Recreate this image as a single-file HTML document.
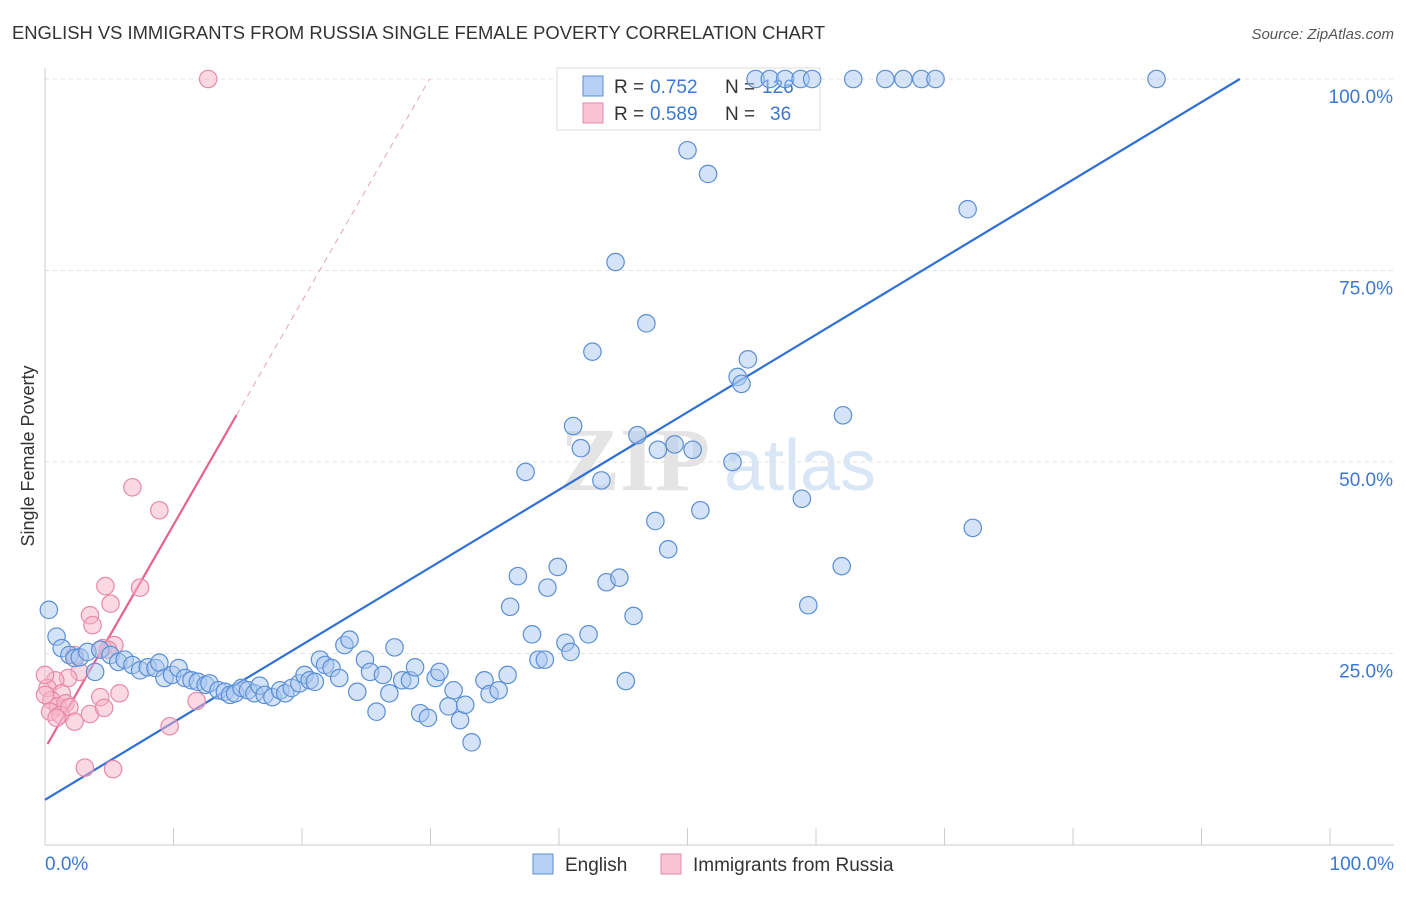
<!DOCTYPE html>
<html><head><meta charset="utf-8"><style>
body{margin:0;background:#fff;font-family:"Liberation Sans",sans-serif;}
</style></head><body>
<svg id="c" width="1406" height="892" xmlns="http://www.w3.org/2000/svg">
<text x="12" y="39" font-size="18.4" fill="#333">ENGLISH VS IMMIGRANTS FROM RUSSIA SINGLE FEMALE POVERTY CORRELATION CHART</text>
<text x="1394" y="39" font-size="15" fill="#555" text-anchor="end" font-style="italic">Source: ZipAtlas.com</text>
<text x="34" y="456" font-size="18" fill="#333" text-anchor="middle" transform="rotate(-90 34 456)">Single Female Poverty</text>
<g><text x="635" y="490" font-size="90" fill="#e4e4e4" text-anchor="middle" font-family="Liberation Serif,serif" font-weight="bold">ZIP</text><text x="800" y="490" font-size="72" fill="#d8e6f6" text-anchor="middle">atlas</text></g>
<g id="grid"></g><g id="axes"></g>
<g>
<rect x="557" y="68" width="263" height="62" fill="#fff" stroke="#ddd"/>
<rect x="583" y="76" width="20" height="20" fill="#b6d1f3" stroke="#5b8fd6"/>
<text x="614" y="93" font-size="19" fill="#333">R =</text>
<text x="650" y="93" font-size="19" fill="#3a78d4">0.752</text>
<text x="725" y="93" font-size="19" fill="#333">N =</text>
<text x="762" y="93" font-size="19" fill="#3a78d4">126</text>
<rect x="583" y="103" width="20" height="20" fill="#f8c4d4" stroke="#e88aa8"/>
<text x="614" y="120" font-size="19" fill="#333">R =</text>
<text x="650" y="120" font-size="19" fill="#3a78d4">0.589</text>
<text x="725" y="120" font-size="19" fill="#333">N =</text>
<text x="770" y="120" font-size="19" fill="#3a78d4">36</text>
</g>
<g id="lines"></g><g id="pts"></g>
<g>
<rect x="533" y="854" width="20" height="20" fill="#b6d1f3" stroke="#5b8fd6"/>
<text x="565" y="871" font-size="19" fill="#333">English</text>
<rect x="661" y="854" width="20" height="20" fill="#f8c4d4" stroke="#e88aa8"/>
<text x="693" y="871" font-size="19" fill="#333">Immigrants from Russia</text>
</g>
</svg>
<script>
const blueX=[0.3,0.9,1.3,1.9,2.3,2.7,3.3,3.9,4.3,5.1,5.7,6.2,6.8,7.4,8.0,8.6,8.9,9.3,9.9,10.4,10.9,11.4,11.9,12.5,12.8,13.5,14.0,14.4,14.8,15.3,15.8,16.3,16.7,17.1,17.7,18.3,18.7,19.2,19.8,20.2,20.6,21.0,21.4,21.8,22.3,22.9,23.3,23.7,24.3,24.9,25.3,25.8,26.3,26.8,27.2,27.8,28.4,28.8,29.2,29.8,30.4,30.7,31.4,31.8,32.3,32.7,33.2,34.2,34.6,35.3,36.0,36.2,36.8,37.4,37.9,38.4,38.9,39.1,39.9,40.5,40.9,41.1,41.7,42.3,42.6,43.3,43.7,44.4,44.7,45.2,45.8,46.1,46.8,47.5,47.7,48.5,49.0,50.0,50.4,51.0,51.6,53.5,53.9,54.2,54.7,55.3,56.4,57.6,58.8,59.7,58.9,59.4,62.1,62.0,62.9,65.4,66.8,68.2,69.3,71.8,72.2,86.5];
const blueY=[30.7,27.2,25.7,24.8,24.4,24.5,25.2,22.6,25.5,24.8,23.9,24.2,23.5,22.8,23.2,23.1,23.8,21.8,22.2,23.1,21.8,21.5,21.3,20.9,21.1,20.2,20.0,19.6,19.8,20.5,20.2,19.8,20.8,19.6,19.3,20.2,19.8,20.5,21.1,22.2,21.5,21.3,24.2,23.5,23.1,21.8,26.1,26.8,20.0,24.2,22.6,17.4,22.2,19.8,25.8,21.5,21.5,23.2,17.2,16.6,21.8,22.6,18.1,20.2,16.3,18.3,13.4,21.5,19.7,20.2,22.2,31.1,35.1,48.7,27.5,24.2,24.2,33.6,36.3,26.4,25.2,54.7,51.8,27.5,64.4,47.6,34.3,76.1,34.9,21.4,29.9,53.5,68.1,42.3,51.6,38.6,52.3,90.7,51.6,43.7,87.6,50.0,61.1,60.2,63.4,100,100,100,100,100,45.2,31.3,56.1,36.4,100,100,100,100,100,83.0,41.4,100];
const pinkX=[12.7,6.8,8.9,4.7,7.4,3.5,5.1,3.7,5.4,4.5,4.9,2.3,2.7,1.8,0.8,0.2,1.3,4.3,5.8,0.5,1.0,1.6,0.4,1.2,1.9,3.5,4.6,2.3,0.9,9.7,3.1,5.3,11.8,0,0];
const pinkY=[100,46.7,43.7,33.8,33.6,30.0,31.5,28.7,26.1,25.7,25.5,24.8,22.6,21.8,21.5,20.5,19.8,19.3,19.8,18.9,18.1,18.5,17.4,17.0,18.0,17.1,17.9,16.1,16.6,15.5,10.1,9.9,18.8,22.2,19.6];
const blueLine=[1.012,5.9], pinkLine=[2.92,12.6];
const yTicks=[25,50,75,100];
const xTickVals=[0,10,20,30,40,50,60,70,80,90,100];
const NS='http://www.w3.org/2000/svg';
const sx=v=>45+v*12.85, sy=v=>845-v*7.66;
function mk(tag,attrs,parent){const e=document.createElementNS(NS,tag);for(const k in attrs)e.setAttribute(k,attrs[k]);document.getElementById(parent).appendChild(e);return e;}
yTicks.forEach(t=>{
 const g=mk('line',{x1:45,x2:1394,y1:sy(t),y2:sy(t),stroke:'#e2e2e2','stroke-dasharray':'4,4'},'grid');
 
 
 const l=mk('text',{x:1393,y:sy(t)+24,'font-size':19,fill:'#3a78d4','text-anchor':'end'},'grid');l.textContent=t.toFixed(1)+'%';
 
 
});
const ax=mk('line',{x1:45,x2:1394,y1:845,y2:845,stroke:'#ccc'},'axes');


const ay=mk('line',{x1:45,x2:45,y1:68,y2:845,stroke:'#ccc'},'axes');


xTickVals.forEach(t=>{const k=mk('line',{x1:sx(t),x2:sx(t),y1:828,y2:845,stroke:'#ccc'},'axes');
 
 });
[['0.0%',45,'start'],['100.0%',1394,'end']].forEach(a=>{const t=mk('text',{x:a[1],y:870,'font-size':19,fill:'#3a78d4','text-anchor':a[2]},'axes');t.textContent=a[0];
 
 });
function pt(xs,ys,fill,stroke,name){xs.forEach((x,i)=>{const c=mk('circle',{cx:sx(x),cy:sy(ys[i]),r:8.7,fill:fill,'fill-opacity':0.5,stroke:stroke,'stroke-width':1.2},'pts');
 
 });}
pt(pinkX,pinkY,'#f6b3c8','#e88aa8','russia-point');
pt(blueX,blueY,'#a9c8f0','#5b8fd6','english-point');
const bx2=(100-blueLine[1])/blueLine[0];
const bl=mk('line',{x1:sx(0),y1:sy(blueLine[1]),x2:sx(bx2),y2:sy(100),stroke:'#2f6fd6','stroke-width':2.2},'lines');


const px2=(100-pinkLine[1])/pinkLine[0];
const pl=mk('line',{x1:sx(0.2),y1:sy(pinkLine[1]+0.2*pinkLine[0]),x2:sx(14.9),y2:sy(pinkLine[1]+14.9*pinkLine[0]),stroke:'#e8628f','stroke-width':2.2},'lines');


const pd=mk('line',{x1:sx(14.9),y1:sy(pinkLine[1]+14.9*pinkLine[0]),x2:sx(px2),y2:sy(100),stroke:'#e8a0b8','stroke-width':1,'stroke-dasharray':'6,5'},'lines');


</script>
</body></html>
